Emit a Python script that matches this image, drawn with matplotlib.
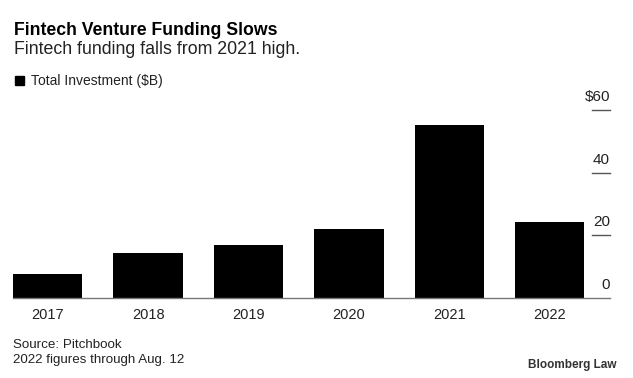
import matplotlib
matplotlib.use('Agg')
import matplotlib.pyplot as plt
from matplotlib.transforms import blended_transform_factory

years = ['2017', '2018', '2019', '2020', '2021', '2022']
investment = [7.8, 14.5, 17.1, 22.1, 55.4, 24.2]
y_ticks = [0, 20, 40, 60]
y_tick_labels = ['0', '20', '40', '$60']

plt.rcParams['font.family'] = ['Liberation Sans', 'DejaVu Sans']

W, H = 633, 378
fig = plt.figure(figsize=(W / 100, H / 100), dpi=100)
ax = fig.add_axes([13 / W, (H - 298) / H, (610 - 13) / W, (298 - 101) / H])

x = list(range(len(years)))
ax.bar(x, investment, width=0.69, color='black', zorder=2)

ax.set_xlim(-0.345, 5.6)
ax.set_ylim(0, 63)
for s in ['top', 'left', 'right']:
  ax.spines[s].set_visible(False)
ax.spines['bottom'].set_color('#777777')
ax.spines['bottom'].set_linewidth(1.0)
ax.set_yticks([])
ax.set_xticks(x, labels=years)
ax.tick_params(axis='x', length=0, pad=7, labelsize=10.5, labelcolor='#222222')

# right-hand tick marks with labels sitting above them
trans = blended_transform_factory(ax.transAxes, ax.transData)
for v, lab in zip(y_ticks, y_tick_labels):
  if v > 0:
    ax.plot([1 - 18 / 597, 1.0], [v, v], transform=trans, color='#555555',
            lw=1.0, clip_on=False, zorder=3)
  ax.text(1.0, v + 3.0, lab, transform=trans, ha='right', va='baseline',
          fontsize=11, color='#222222')

fig.text(14 / W, 1 - 35 / H, 'Fintech Venture Funding Slows', fontsize=12.7,
         fontweight='bold', color='black')
fig.text(14 / W, 1 - 54 / H, 'Fintech funding falls from 2021 high.',
         fontsize=12.8, color='#222222')
fig.patches.append(plt.Rectangle((15 / W, 1 - 85 / H), 9 / W, 9 / H,
                                 transform=fig.transFigure, color='black'))
fig.text(31 / W, 1 - 85 / H, 'Total Investment ($B)', fontsize=10,
         color='#222222')

fig.text(13 / W, 1 - 348 / H, 'Source: Pitchbook', fontsize=9.6,
         color='#222222')
fig.text(13 / W, 1 - 363 / H, '2022 figures through Aug. 12', fontsize=9.6,
         color='#222222')
fig.text(616 / W, 1 - 368 / H, 'Bloomberg Law', fontsize=8.5, ha='right',
         fontweight='bold', color='#333333')

fig.savefig('out.png', dpi=100, facecolor='white')
